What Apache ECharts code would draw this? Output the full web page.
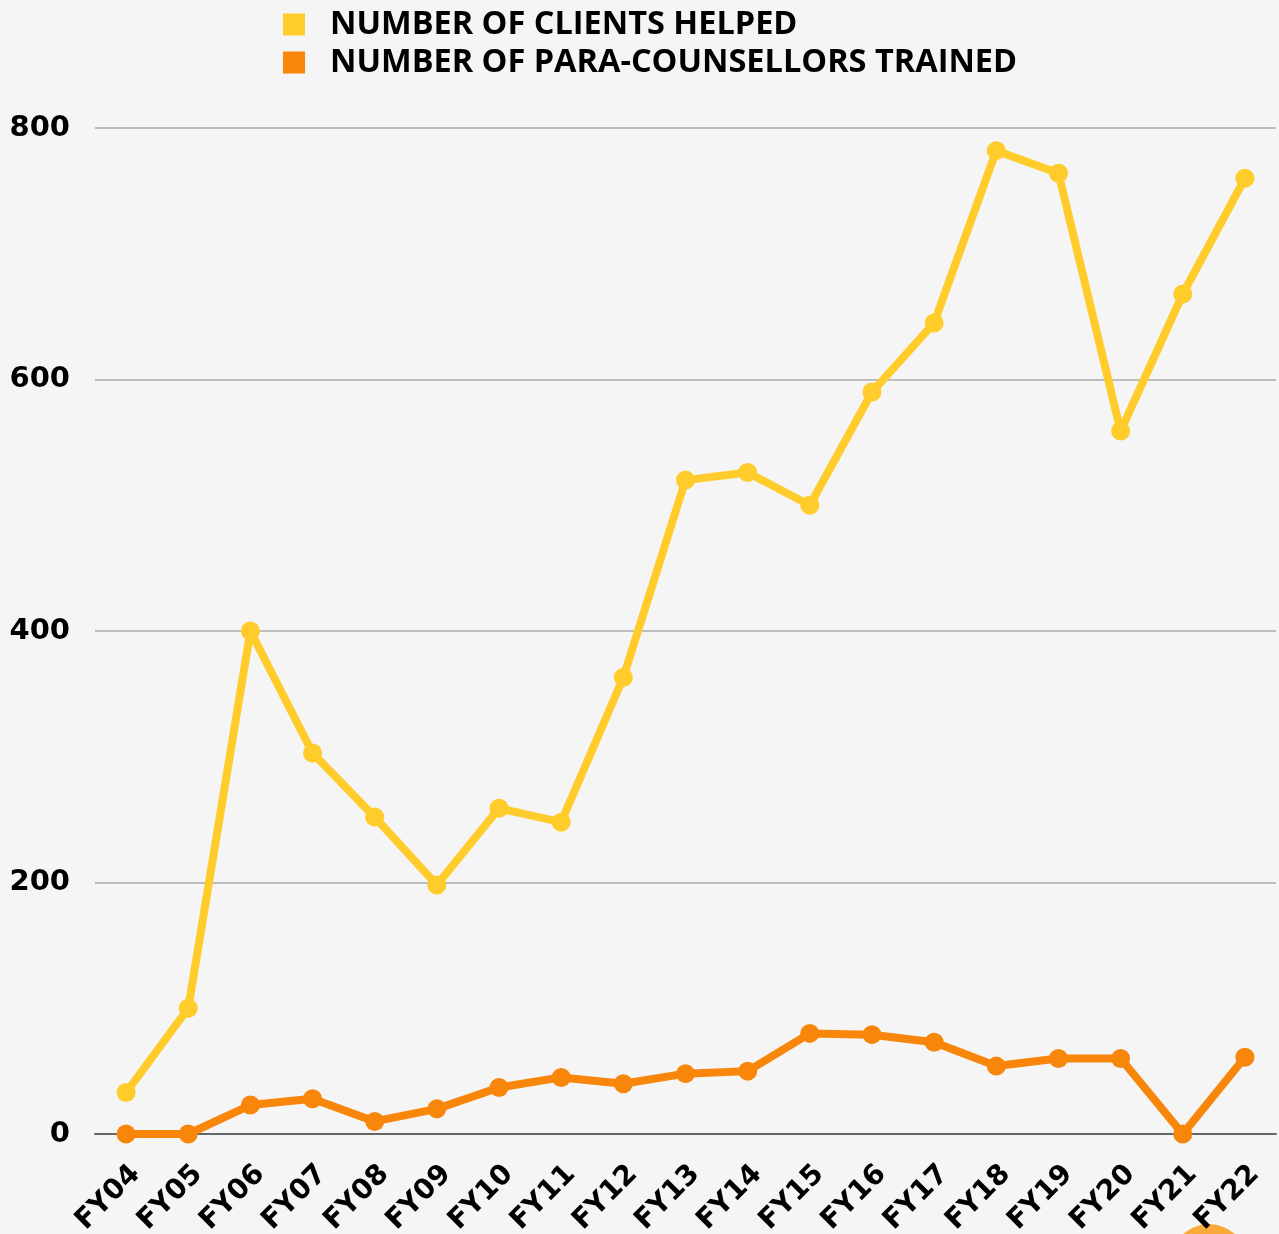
<!DOCTYPE html>
<html>
<head>
<meta charset="utf-8">
<script src="https://cdn.jsdelivr.net/npm/echarts@6/dist/echarts.min.js"></script>
<style>
  html, body { margin: 0; padding: 0; background: #f5f5f5; }
  #chart { width: 1279px; height: 1234px; }
</style>
</head>
<body>
<div id="chart"></div>
<script>
const years = ["FY04", "FY05", "FY06", "FY07", "FY08", "FY09", "FY10", "FY11", "FY12", "FY13",
  "FY14", "FY15", "FY16", "FY17", "FY18", "FY19", "FY20", "FY21", "FY22"];
const clientsHelped = [33, 100, 400, 303, 252, 198, 259, 248, 363, 520, 526, 500, 590, 645, 782, 764, 559, 668, 760];
const counsellorsTrained = [0, 0, 23, 28, 10, 20, 37, 45, 40, 48, 50, 80, 79, 73, 54, 60, 60, 0, 61];
const yTicks = { min: 0, max: 800, interval: 200 };

const labelFont = "DejaVu Sans, sans-serif";
const chart = echarts.init(document.getElementById("chart"));

chart.setOption({
  backgroundColor: "#f5f5f5",
  animation: false,
  legend: {
    orient: "vertical",
    left: 283,
    top: 8,
    padding: 0,
    itemWidth: 22,
    itemHeight: 22,
    itemGap: 5,
    icon: "rect",
    textStyle: {
      color: "#000",
      fontFamily: "Open Sans, sans-serif",
      fontWeight: "bold",
      fontSize: 32.5,
      padding: [0, 0, 0, 20],
    },
  },
  grid: { left: 95, right: 3, top: 128, bottom: 100, outerBoundsMode: "none", containLabel: false },
  xAxis: {
    type: "category",
    data: years,
    boundaryGap: true,
    axisTick: { show: false },
    axisLine: { lineStyle: { color: "#666", width: 2 } },
    axisLabel: {
      rotate: 45,
      margin: 26,
      align: "right",
      verticalAlign: "top",
      color: "#000",
      fontFamily: labelFont,
      fontWeight: "bold",
      fontSize: 28,
      interval: 0,
    },
  },
  yAxis: {
    type: "value",
    min: yTicks.min,
    max: yTicks.max,
    interval: yTicks.interval,
    axisLine: { show: false },
    axisTick: { show: false },
    splitLine: { lineStyle: { color: "#bdbdbd", width: 2 } },
    axisLabel: {
      margin: 25,
      padding: [4, 0, 0, 0],
      color: "#000",
      fontFamily: labelFont,
      fontWeight: "bold",
      fontSize: 29,
    },
  },
  series: [
    {
      name: "NUMBER OF CLIENTS HELPED",
      type: "line",
      data: clientsHelped,
      symbol: "circle",
      symbolSize: 19,
      lineStyle: { width: 8, color: "#ffcc2b" },
      itemStyle: { color: "#ffcc2b" },
      z: 3,
    },
    {
      name: "NUMBER OF PARA-COUNSELLORS TRAINED",
      type: "line",
      data: counsellorsTrained,
      symbol: "circle",
      symbolSize: 19,
      lineStyle: { width: 8, color: "#f8860a" },
      itemStyle: { color: "#f8860a" },
      z: 4,
    },
  ],
  graphic: {
    elements: [
      {
        type: "circle",
        z: -100,
        silent: true,
        shape: { cx: 1209, cy: 1262, r: 38 },
        style: { fill: "#f9a93a" },
      },
    ],
  },
});
</script>
</body>
</html>
